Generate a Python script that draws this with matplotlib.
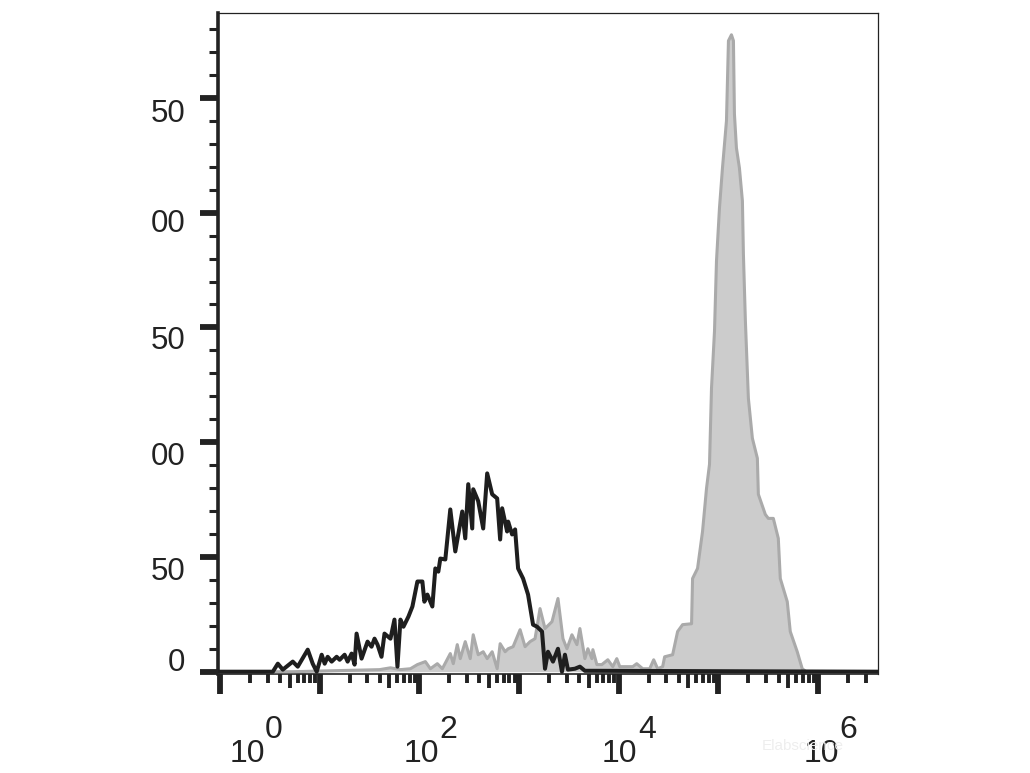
import numpy as np
import matplotlib
matplotlib.use("Agg")
import matplotlib.pyplot as plt
from matplotlib.ticker import FixedLocator, LogLocator, MultipleLocator, NullFormatter
from matplotlib.transforms import blended_transform_factory, offset_copy

plt.rcParams['font.family'] = ['Liberation Sans', 'DejaVu Sans']

# control (unstained) histogram, black line: log10 intensity vs count
black_log = np.array([
    -0.02, 0.53, 0.58, 0.63, 0.73, 0.78, 0.88, 0.93, 0.97, 1.02, 1.05, 1.08, 1.12,
    1.17, 1.20, 1.25, 1.28, 1.32, 1.35, 1.37, 1.42, 1.48, 1.52, 1.55, 1.58, 1.62,
    1.65, 1.71, 1.75, 1.78, 1.81, 1.84, 1.89, 1.93, 1.98, 2.03, 2.05, 2.08, 2.13,
    2.16, 2.19, 2.21, 2.26, 2.31, 2.36, 2.43, 2.46, 2.49, 2.53, 2.54, 2.59, 2.64,
    2.68, 2.73, 2.78, 2.81, 2.83, 2.88, 2.89, 2.93, 2.96, 2.99, 3.04, 3.09, 3.14,
    3.18, 3.23, 3.26, 3.29, 3.34, 3.39, 3.43, 3.46, 3.49, 3.56, 3.61, 3.66, 6.60])
black_count = np.array([
    0, 0, 3.5, 0.9, 4.4, 2.2, 9.6, 3.5, 0, 7.4, 3.5, 6.5, 4.4,
    6.5, 5.2, 7.4, 4.4, 7.9, 3.1, 16.6, 5.7, 13.1, 10.9, 14.4, 11.8, 6.5,
    16.6, 14.4, 22.7, 2.2, 22.7, 19.6, 24.0, 28.4, 39.3, 39.3, 30.5, 33.6, 28.4,
    45.0, 43.6, 49.3, 48.9, 70.7, 52.4, 69.8, 58.1, 81.7, 62.4, 79.5, 74.3, 62.4,
    86.4, 77.3, 75.5, 57.6, 71.2, 61.1, 65.4, 59.8, 62.0, 45.0, 40.6, 33.6, 20.5,
    19.6, 17.5, 1.3, 8.7, 4.4, 10.0, 0, 7.4, 0.9, 1.3, 2.2, 0.4, 0])

# stained histogram, grey filled
grey_log = np.array([
    -0.02, 0.73, 1.10, 1.60, 1.71, 1.81, 1.91, 1.98, 2.06, 2.11, 2.18, 2.23, 2.31,
    2.34, 2.38, 2.41, 2.46, 2.51, 2.54, 2.59, 2.64, 2.68, 2.73, 2.78, 2.81, 2.86,
    2.89, 2.94, 3.01, 3.06, 3.11, 3.16, 3.21, 3.26, 3.33, 3.39, 3.44, 3.48, 3.53,
    3.58, 3.61, 3.66, 3.69, 3.73, 3.74, 3.78, 3.83, 3.89, 3.94, 3.98, 4.01, 4.08,
    4.14, 4.18, 4.24, 4.31, 4.35, 4.39, 4.44, 4.46, 4.54, 4.59, 4.64, 4.73, 4.74,
    4.79, 4.84, 4.88, 4.91, 4.93, 4.96, 4.98, 5.01, 5.04, 5.08, 5.10, 5.13, 5.15,
    5.16, 5.18, 5.21, 5.24, 5.25, 5.27, 5.30, 5.34, 5.39, 5.40, 5.47, 5.50, 5.55,
    5.60, 5.62, 5.69, 5.72, 5.79, 5.84, 5.88, 6.60])
grey_count = np.array([
    0, 0, 0.4, 0.9, 1.7, 0.9, 1.3, 3.1, 4.4, 1.3, 3.5, 1.3, 7.9,
    3.5, 11.8, 5.7, 13.1, 5.7, 16.1, 7.4, 8.7, 5.7, 8.7, 1.3, 12.2, 8.7,
    10.0, 10.9, 18.3, 10.9, 13.1, 14.4, 27.5, 18.8, 21.8, 31.9, 14.4, 10.0, 16.1,
    11.8, 18.8, 5.7, 10.0, 5.7, 9.6, 3.1, 3.1, 5.2, 2.2, 5.7, 2.2, 2.2,
    2.2, 3.5, 1.3, 1.3, 5.2, 1.3, 2.2, 6.5, 7.4, 17.5, 20.5, 20.9, 40.6,
    45.0, 61.1, 79.9, 90.4, 123.6, 148.4, 179.0, 202.1, 219.5, 240.0, 274.9, 277.5, 274.9,
    243.0, 228.2, 219.5, 205.1, 182.0, 152.7, 119.1, 101.7, 93.0, 77.3, 68.5, 66.8, 66.8,
    58.1, 40.6, 30.5, 17.5, 8.7, 1.3, 0, 0])

ytick_vals = [0, 50, 100, 150, 200, 250]
ytick_text = ['0', '50', '00', '50', '00', '50']
xtick_exp = [0, 2, 4, 6]

ink = '#222222'
fig = plt.figure(figsize=(10.3, 7.73), dpi=100)
ax = fig.add_axes([218 / 1030, 1 - 674 / 773, 660 / 1030, 661 / 773])

ax.fill_between(10 ** grey_log, grey_count, color='#cccccc', lw=0, zorder=2)
ax.plot(10 ** grey_log, grey_count, color='#aaaaaa', lw=2.2, zorder=3)
ax.plot(10 ** black_log, black_count, color='#1e1e1e', lw=2.9, zorder=4)

ax.set_xscale('log')
ax.set_xlim(10 ** -0.02, 10 ** 6.6)
ax.set_ylim(-1, 287)

# x ticks: decades long, 5s medium, others short
ax.xaxis.set_major_locator(FixedLocator([10.0 ** k for k in range(7)]))
ax.xaxis.set_minor_locator(LogLocator(base=10, subs=(2, 3, 4, 6, 7, 8, 9), numticks=20))
ax.xaxis.set_major_formatter(NullFormatter())
ax.xaxis.set_minor_formatter(NullFormatter())
ax.tick_params(axis='x', which='major', length=14.5, width=4.2, color=ink, direction='out')
ax.tick_params(axis='x', which='minor', length=6.5, width=2.8, color=ink, direction='out')

sec = ax.secondary_xaxis('bottom')
sec.set_xticks([5 * 10.0 ** k for k in range(7)])
sec.xaxis.set_minor_locator(FixedLocator([]))
sec.set_xticklabels([])
sec.tick_params(axis='x', which='major', length=10, width=2.8, color=ink, direction='out')
sec.spines['bottom'].set_visible(False)

# y ticks
ax.set_yticks(ytick_vals)
ax.yaxis.set_minor_locator(MultipleLocator(10))
ax.set_yticklabels([])
ax.tick_params(axis='y', which='major', length=13, width=4.2, color=ink, direction='out')
ax.tick_params(axis='y', which='minor', length=6.5, width=2.2, color=ink, direction='out')

for side in ['top', 'right']:
    ax.spines[side].set_linewidth(0.9)
    ax.spines[side].set_color(ink)
ax.spines['left'].set_linewidth(2.6)
ax.spines['left'].set_color(ink)
ax.spines['bottom'].set_linewidth(1.2)
ax.spines['bottom'].set_color(ink)

# y labels (shifted as in the original scan)
ydy = [-12, 12, 12, 11, 8, 13]
ytr = blended_transform_factory(ax.transAxes, ax.transData)
for v, t, dy in zip(ytick_vals, ytick_text, ydy):
    tr = offset_copy(ytr, fig=fig, x=-33, y=-(dy + 11), units='dots')
    ax.text(0, v, t, transform=tr, ha='right', va='baseline',
            fontsize=22.5, color=ink, clip_on=False)

# x labels: "10" with an exponent of the same size
xdx = [27, 2, 1, 3]
xtr = blended_transform_factory(ax.transData, fig.transFigure)
for k, dx in zip(xtick_exp, xdx):
    tr = offset_copy(xtr, fig=fig, x=dx, y=0, units='dots')
    ax.text(10.0 ** k, 1 - 762 / 773, '10', transform=tr, ha='center', va='baseline',
            fontsize=23, color=ink, clip_on=False)
    tr2 = offset_copy(xtr, fig=fig, x=dx + 18, y=0, units='dots')
    ax.text(10.0 ** k, 1 - 738 / 773, str(k), transform=tr2, ha='left', va='baseline',
            fontsize=23, color=ink, clip_on=False)

fig.text(762 / 1030, 1 - 750 / 773, 'Elabscience', fontsize=11, color='#eeeeee')

fig.savefig('out.png', dpi=100)
